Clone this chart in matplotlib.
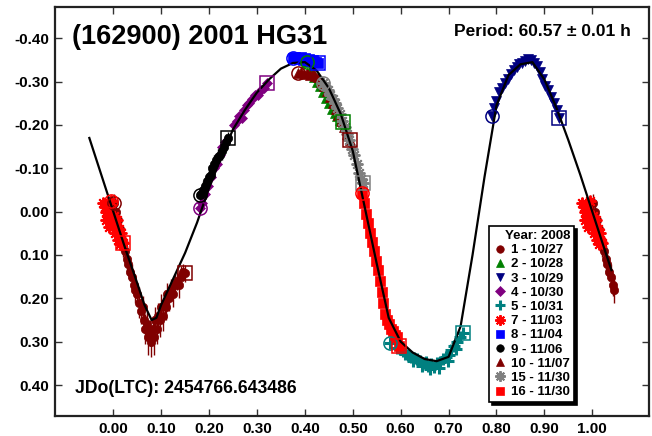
import matplotlib
matplotlib.use("Agg")
import matplotlib.pyplot as plt
from matplotlib.lines import Line2D
import numpy as np

plt.rcParams['font.family'] = ['Liberation Sans', 'DejaVu Sans']
plt.rcParams['font.weight'] = 'bold'

# ---------------- data ----------------
title = "(162900) 2001 HG31"
period_text = "Period: 60.57 \u00b1 0.01 h"
jd_text = "JDo(LTC): 2454766.643486"
legend_title = "Year: 2008"

xticks = [0.0, 0.1, 0.2, 0.3, 0.4, 0.5, 0.6, 0.7, 0.8, 0.9, 1.0]
xticklabels = ["0.00", "0.10", "0.20", "0.30", "0.40", "0.50", "0.60", "0.70", "0.80", "0.90", "1.00"]
yticks = [-0.4, -0.3, -0.2, -0.1, 0.0, 0.1, 0.2, 0.3, 0.4]
yticklabels = ["-0.40", "-0.30", "-0.20", "-0.10", "0.00", "0.10", "0.20", "0.30", "0.40"]

# Fourier fit curve
curve_phase = [-0.05, -0.025, 0.0, 0.025, 0.05, 0.065, 0.08, 0.09, 0.10, 0.125, 0.15, 0.175, 0.20,
               0.225, 0.25, 0.275, 0.30, 0.325, 0.35, 0.375, 0.40, 0.425, 0.45, 0.475, 0.50,
               0.525, 0.55, 0.575, 0.60, 0.625, 0.65, 0.675, 0.70, 0.725, 0.75, 0.775, 0.80,
               0.825, 0.85, 0.875, 0.90, 0.925, 0.95, 0.975, 1.0, 1.025, 1.04]
curve_mag = [-0.17, -0.085, 0.0, 0.085, 0.165, 0.215, 0.25, 0.245, 0.215, 0.155, 0.095, 0.025, -0.055,
             -0.125, -0.19, -0.235, -0.275, -0.305, -0.33, -0.343, -0.345, -0.325, -0.285, -0.225, -0.14,
             -0.01, 0.12, 0.245, 0.30, 0.325, 0.34, 0.345, 0.335, 0.265, 0.10, -0.08, -0.245,
             -0.315, -0.34, -0.345, -0.305, -0.24, -0.165, -0.085, 0.0, 0.085, 0.135]

# session 1 - 10/27 (maroon circles)
p1 = [0.001, 0.006, 0.009, 0.013, 0.017, 0.020, 0.024, 0.028, 0.031, 0.035, 0.039, 0.043, 0.046, 0.050,
      0.054, 0.057, 0.061, 0.064, 0.067, 0.070, 0.073, 0.076, 0.079, 0.082, 0.085, 0.088, 0.091, 0.094,
      0.097, 0.100, 0.103, 0.107, 0.110, 0.113, 0.117, 0.121, 0.125, 0.129, 0.133, 0.137, 0.141, 0.146, 0.150]
m1 = [-0.02, 0.00, 0.02, 0.04, 0.06, 0.08, 0.09, 0.11, 0.12, 0.14, 0.15, 0.17, 0.18, 0.19,
      0.21, 0.23, 0.22, 0.25, 0.27, 0.26, 0.29, 0.28, 0.30, 0.27, 0.29, 0.25, 0.27, 0.24,
      0.25, 0.22, 0.24, 0.21, 0.22, 0.19, 0.20, 0.18, 0.19, 0.17, 0.16, 0.17, 0.15, 0.14, 0.142]
e1 = [0.02, 0.02, 0.025, 0.02, 0.03, 0.025, 0.02, 0.03, 0.025, 0.02, 0.03, 0.025, 0.03, 0.02,
      0.035, 0.03, 0.025, 0.03, 0.035, 0.03, 0.04, 0.03, 0.035, 0.03, 0.04, 0.03, 0.035, 0.03,
      0.04, 0.03, 0.035, 0.03, 0.03, 0.025, 0.03, 0.025, 0.03, 0.025, 0.02, 0.03, 0.025, 0.02, 0.02]

# session 2 - 10/28 (green triangles)
p2 = [0.405, 0.412, 0.420, 0.426, 0.432, 0.438, 0.444, 0.450, 0.456, 0.462, 0.468, 0.474, 0.480]
m2 = [-0.345, -0.330, -0.310, -0.300, -0.290, -0.275, -0.262, -0.250, -0.238, -0.228, -0.220, -0.212, -0.208]

# session 3 - 10/29 (navy down triangles)
p3 = [0.790, 0.795, 0.800, 0.806, 0.812, 0.818, 0.824, 0.830, 0.836, 0.842, 0.848, 0.854, 0.860,
      0.866, 0.872, 0.878, 0.884, 0.890, 0.896, 0.902, 0.908, 0.914, 0.920, 0.926, 0.931]
m3 = [-0.221, -0.240, -0.255, -0.275, -0.285, -0.297, -0.307, -0.318, -0.327, -0.333, -0.340, -0.344, -0.348,
      -0.352, -0.349, -0.343, -0.335, -0.322, -0.305, -0.290, -0.280, -0.265, -0.250, -0.235, -0.215]

# session 4 - 10/30 (purple diamonds)
p4 = [0.181, 0.186, 0.192, 0.198, 0.204, 0.210, 0.216, 0.222, 0.228, 0.234, 0.252, 0.258, 0.263,
      0.268, 0.273, 0.279, 0.284, 0.290, 0.296, 0.302, 0.308, 0.314, 0.321]
m4 = [-0.008, -0.02, -0.04, -0.06, -0.08, -0.10, -0.11, -0.13, -0.15, -0.16, -0.20, -0.21, -0.22,
      -0.215, -0.235, -0.245, -0.25, -0.26, -0.27, -0.27, -0.28, -0.285, -0.296]

# session 5 - 10/31 (teal plus)
p5 = [0.578, 0.592, 0.598, 0.604, 0.610, 0.616, 0.622, 0.626, 0.628, 0.634, 0.640, 0.644, 0.646,
      0.652, 0.658, 0.662, 0.664, 0.670, 0.676, 0.680, 0.682, 0.688, 0.694, 0.698, 0.700, 0.706,
      0.712, 0.716, 0.718, 0.724, 0.731]
m5 = [0.304, 0.315, 0.318, 0.322, 0.328, 0.330, 0.335, 0.345, 0.338, 0.340, 0.345, 0.356, 0.350,
      0.348, 0.355, 0.362, 0.352, 0.358, 0.350, 0.360, 0.348, 0.340, 0.335, 0.345, 0.330, 0.320,
      0.310, 0.318, 0.300, 0.290, 0.280]

# session 7 - 11/03 (red asterisks)
p7 = [-0.004, -0.021, -0.018, -0.016, -0.013, -0.011, -0.009, -0.007, -0.005, -0.002, 0.000, 0.002,
      0.004, 0.006, 0.008, 0.010, 0.012, 0.014, 0.016, 0.018, -0.015, -0.008, 0.003, 0.009, 0.015, 0.021]
m7 = [-0.025, -0.02, -0.01, 0.00, -0.01, 0.01, 0.00, 0.02, 0.01, 0.03, 0.02, 0.01,
      0.03, 0.04, 0.02, 0.05, 0.04, 0.06, 0.05, 0.07, 0.02, 0.035, 0.05, 0.065, 0.075, 0.073]

# session 8 - 11/04 (blue squares)
p8 = [0.376, 0.380, 0.384, 0.388, 0.392, 0.396, 0.400, 0.404, 0.408, 0.412, 0.416, 0.420, 0.424, 0.428]
m8 = [-0.355, -0.357, -0.355, -0.352, -0.356, -0.351, -0.354, -0.349, -0.352, -0.347, -0.350, -0.345, -0.346, -0.342]

# session 9 - 11/06 (black circles)
p9 = [0.181, 0.183, 0.187, 0.191, 0.195, 0.199, 0.203, 0.207, 0.211, 0.215, 0.219, 0.223, 0.227, 0.231, 0.235, 0.240]
m9 = [-0.038, -0.04, -0.05, -0.06, -0.07, -0.08, -0.085, -0.10, -0.11, -0.12, -0.125, -0.13, -0.14, -0.15, -0.16, -0.169]
e9 = [0.015, 0.015, 0.02, 0.015, 0.02, 0.015, 0.02, 0.015, 0.02, 0.015, 0.02, 0.015, 0.02, 0.015, 0.02, 0.015]

# session 10 - 11/07 (maroon triangles)
p10 = [0.386, 0.392, 0.398, 0.404, 0.410, 0.416, 0.422, 0.428, 0.434, 0.440, 0.446, 0.452, 0.458,
       0.464, 0.470, 0.476, 0.482, 0.488, 0.494]
m10 = [-0.319, -0.322, -0.318, -0.320, -0.315, -0.318, -0.312, -0.310, -0.300, -0.290, -0.278, -0.265, -0.250,
       -0.238, -0.222, -0.210, -0.195, -0.180, -0.165]

# session 15 - 11/30 (grey asterisks)
p15 = [0.438, 0.443, 0.448, 0.453, 0.458, 0.463, 0.468, 0.473, 0.478, 0.483, 0.488, 0.493,
       0.498, 0.503, 0.508, 0.513, 0.518, 0.522]
m15 = [-0.296, -0.29, -0.28, -0.27, -0.26, -0.25, -0.24, -0.225, -0.21, -0.195, -0.18, -0.165,
       -0.145, -0.13, -0.11, -0.09, -0.075, -0.065]

# session 16 - 11/30 (red squares)
p16 = [0.519, 0.524, 0.528, 0.532, 0.536, 0.540, 0.544, 0.548, 0.552, 0.556, 0.560, 0.564,
       0.568, 0.572, 0.576, 0.580, 0.584, 0.588, 0.592, 0.596]
m16 = [-0.044, -0.02, 0.005, 0.027, 0.05, 0.07, 0.09, 0.115, 0.135, 0.16, 0.185, 0.21,
       0.235, 0.25, 0.26, 0.27, 0.275, 0.285, 0.29, 0.31]

sessions = [
    ("1 - 10/27", p1, m1, e1, "#800000", "o"),
    ("2 - 10/28", p2, m2, None, "#008000", "^"),
    ("3 - 10/29", p3, m3, None, "#000080", "v"),
    ("4 - 10/30", p4, m4, None, "#800080", "D"),
    ("5 - 10/31", p5, m5, None, "#008080", "P"),
    ("7 - 11/03", p7, m7, None, "#ff0000", "ast"),
    ("8 - 11/04", p8, m8, None, "#0000ff", "s"),
    ("9 - 11/06", p9, m9, e9, "#000000", "o"),
    ("10 - 11/07", p10, m10, None, "#800000", "^"),
    ("15 - 11/30", p15, m15, None, "#808080", "ast"),
    ("16 - 11/30", p16, m16, None, "#ff0000", "s"),
]

# ---------------- figure ----------------
W, H = 652, 436
fig = plt.figure(figsize=(W / 100, H / 100), dpi=100)
ax = fig.add_axes([54.7 / W, (H - 416) / H, (649 - 54.7) / W, (416 - 6.7) / H])
ax.set_xlim(-0.1223, 1.1184)
ax.set_ylim(0.4715, -0.4729)

def style_for(mk, color):
    if mk == "ast":
        return dict(marker=(8, 2, 0), markersize=8.5, markeredgewidth=1.4, color=color)
    if mk == "P":
        return dict(marker="+", markersize=8, markeredgewidth=2.2, color=color)
    size = {"o": 6, "^": 7, "v": 7, "D": 5.5, "s": 6.5}[mk]
    return dict(marker=mk, markersize=size, markeredgewidth=0.5, color=color, markeredgecolor=color)

handles = []
for label, ph, mg, err, color, mk in sessions:
    ph = np.asarray(ph)
    mg = np.asarray(mg)
    kw = style_for(mk, color)
    for shift in (0.0, 1.0, -1.0):
        xs = ph + shift
        sel = (xs >= -0.05) & (xs <= 1.048)
        if not sel.any():
            continue
        if err is not None:
            ax.errorbar(xs[sel], mg[sel], yerr=np.asarray(err)[sel], fmt="none",
                        ecolor=color, elinewidth=1.0, capsize=0, zorder=1.5)
        ax.plot(xs[sel], mg[sel], linestyle="none", zorder=2, **kw)
    hk = dict(kw)
    hk["markersize"] = kw["markersize"] * 0.9
    handles.append(Line2D([], [], linestyle="none", label=label, **hk))

ax.plot(curve_phase, curve_mag, color="black", lw=1.6, zorder=3)

# session start (circle) / end (square) markers
for label, ph, mg, err, color, mk in sessions:
    ax.plot(ph[0], mg[0], marker="o", markersize=9.5, markerfacecolor="none",
            markeredgecolor=color, markeredgewidth=1.1, linestyle="none", zorder=4)
    ax.plot(ph[-1], mg[-1], marker="s", markersize=9.5, markerfacecolor="none",
            markeredgecolor=color, markeredgewidth=1.1, linestyle="none", zorder=4)

# axes styling
ax.set_xticks(xticks)
ax.set_xticklabels(xticklabels)
ax.set_yticks(yticks)
ax.set_yticklabels(yticklabels)
ax.tick_params(direction="in", length=5, width=1, top=True, right=True,
               labelsize=11, pad=4, colors="#333333", labelcolor="black")
for lab in ax.get_xticklabels() + ax.get_yticklabels():
    lab.set_fontweight("bold")
for sp in ax.spines.values():
    sp.set_linewidth(1.6)
    sp.set_color("#222222")

fig.text(72 / W, 1 - 37 / H, title, fontsize=19.5, fontweight="bold", ha="left", va="center")
fig.text(631 / W, 1 - 32 / H, period_text, fontsize=12.5, fontweight="bold", ha="right", va="center")
fig.text(75 / W, 1 - 388 / H, jd_text, fontsize=12.7, fontweight="bold", ha="left", va="center")

leg = ax.legend(handles=handles, title=legend_title, loc="upper left",
                bbox_to_anchor=(489 / W, 1 - 226 / H), bbox_transform=fig.transFigure,
                fontsize=9.5, title_fontproperties={"weight": "bold", "size": 9.5},
                frameon=True, fancybox=False, framealpha=1, edgecolor="black",
                shadow={"color": "black", "alpha": 1}, borderpad=0.3, labelspacing=0.15,
                handlelength=1.0, handletextpad=0.4, borderaxespad=0, alignment="right")
leg.get_frame().set_linewidth(1.2)
for t in leg.get_texts():
    t.set_fontweight("bold")
leg.set_zorder(10)

fig.savefig("out.png", dpi=100)
